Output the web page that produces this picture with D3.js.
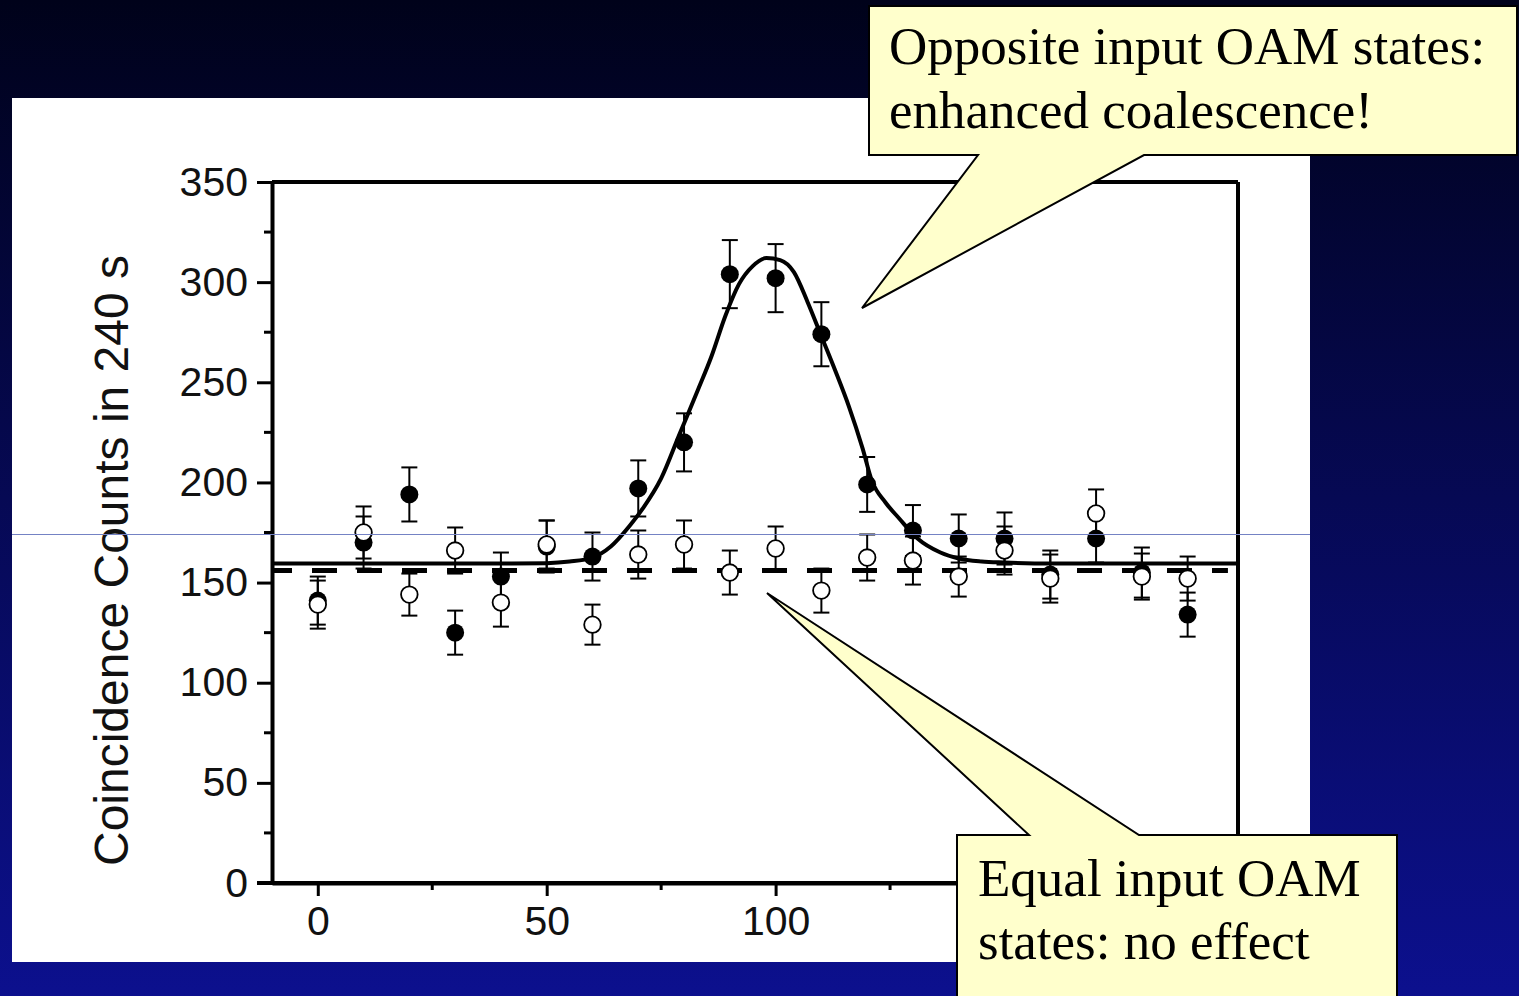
<!DOCTYPE html>
<html>
<head>
<meta charset="utf-8">
<script src="https://cdn.jsdelivr.net/npm/d3@7"></script>
<style>
  html,body{margin:0;padding:0;overflow:hidden;}
  svg{display:block;}
</style>
</head>
<body>
<svg id="chart" width="1519" height="996"></svg>
<script>
// path delay positions (x) and the two measured series
const positions = [0,10,20,30,40,50,60,70,80,90,100,110,120,130,140,150,160,170,180,190];
const oppCounts = [141,170,194,125,153,168,163,197,220,304,302,274,199,176,172,172,154,172,155,134];
const oppErr    = [12,13,13.5,11,12,13,12,14,14.5,17,17,16,13.7,12.7,12,13,12,12,12.5,11];
const eqCounts  = [139,175,144,166,140,169,129,164,169,155,167,146,162.5,161,153,166,152,184.5,153,152];
const eqErr     = [12,13,10.5,11.5,12,12,10,12,12,11,11,11,11.5,12,10,12,12,12,11.5,11];
// fitted curve
const fitX = [-10,0,20,40,50,55,60,64,68,71,75,79,83,86,89,92,95,98,101,104,107,110,113,116,119,121,124,127,131,136,140,145,150,160,180,201];
const fitY = [159.5,159.5,159.5,159.5,159.7,160.5,162.5,168,178,187,202,224,246,263,283,299,308,312,311,305,290,273,256,238,217,201,190,182,172,165,162,160.5,160,159.5,159.5,159.5];
const equalLevel = 156;
const yTicks = [0,50,100,150,200,250,300,350];
const yMinor = [25,75,125,175,225,275,325];
const xTicks = [0,50,100,150,200];
const xLabelled = [0,50,100];   // 150 and 200 sit under the callout
const xMinor = [25,75,125,175];
const yTitle = "Coincidence Counts in 240 s";
const calloutTop = ["Opposite input OAM states:", "enhanced coalescence!"];
const calloutBottom = ["Equal input OAM", "states: no effect"];

const svg = d3.select("#chart");
const defs = svg.append("defs");
const grad = defs.append("linearGradient").attr("id","bg").attr("x1",0).attr("y1",0).attr("x2",0).attr("y2",1);
grad.append("stop").attr("offset","0%").attr("stop-color","#00021a");
grad.append("stop").attr("offset","100%").attr("stop-color","#0c108e");
svg.append("rect").attr("width",1519).attr("height",996).attr("fill","url(#bg)");

// white figure panel
svg.append("rect").attr("x",12).attr("y",98).attr("width",1298).attr("height",864).attr("fill","#fff");

const x = d3.scaleLinear().domain([-10,201]).range([272,1238]);
const y = d3.scaleLinear().domain([0,350]).range([883,182]);

const g = svg.append("g");
const sans = "'Liberation Sans', Arial, sans-serif";

// frame: top and right
g.append("line").attr("x1",x(-10)).attr("x2",x(201)).attr("y1",y(350)).attr("y2",y(350)).attr("stroke","#000").attr("stroke-width",4);
g.append("line").attr("x1",x(201)).attr("x2",x(201)).attr("y1",y(350)).attr("y2",y(0)).attr("stroke","#000").attr("stroke-width",4);

// y axis
const yAx = g.append("g").attr("transform",`translate(${x(-10)},0)`)
  .call(d3.axisLeft(y).tickValues(yTicks).tickSize(15).tickSizeOuter(0).tickPadding(9));
yAx.select(".domain").attr("stroke-width",4);
yAx.selectAll(".tick line").attr("stroke-width",3);
yAx.selectAll("text").attr("font-family",sans).attr("font-size",41).attr("fill","#111");
g.append("g").selectAll("line").data(yMinor).join("line")
  .attr("x1",x(-10)-8).attr("x2",x(-10)).attr("y1",d=>y(d)).attr("y2",d=>y(d))
  .attr("stroke","#000").attr("stroke-width",3);

// x axis
const xAx = g.append("g").attr("transform",`translate(0,${y(0)})`)
  .call(d3.axisBottom(x).tickValues(xTicks).tickSize(13).tickSizeOuter(0).tickPadding(10)
    .tickFormat(d=>xLabelled.includes(d) ? d : ""));
xAx.select(".domain").attr("stroke-width",4);
xAx.selectAll(".tick line").attr("stroke-width",3);
xAx.selectAll("text").attr("font-family",sans).attr("font-size",41).attr("fill","#111");
xAx.selectAll(".tick text").filter(d=>!xLabelled.includes(d)).remove();
g.append("g").selectAll("line").data(xMinor).join("line")
  .attr("x1",d=>x(d)).attr("x2",d=>x(d)).attr("y1",y(0)).attr("y2",y(0)+7)
  .attr("stroke","#000").attr("stroke-width",3);
// 0 tick extending left of the axis
g.append("line").attr("x1",x(-10)-15).attr("x2",x(201)).attr("y1",y(0)).attr("y2",y(0)).attr("stroke","#000").attr("stroke-width",4);

// y title
g.append("text").attr("transform",`translate(128,${(y(0)+y(350))/2 + 28}) rotate(-90)`)
  .attr("text-anchor","middle").attr("font-family",sans)
  .attr("font-size",48).attr("fill","#111").text(yTitle);

// dashed equal-level line
g.append("line").attr("x1",x(-10)).attr("x2",x(198.8)).attr("y1",y(equalLevel)).attr("y2",y(equalLevel))
  .attr("stroke","#000").attr("stroke-width",5).attr("stroke-dasharray","25,20").attr("stroke-dashoffset",5);

// fit curve
const fit = fitX.map((v,i)=>[v,fitY[i]]);
g.append("path").datum(fit)
  .attr("d", d3.line().x(d=>x(d[0])).y(d=>y(d[1])).curve(d3.curveMonotoneX))
  .attr("fill","none").attr("stroke","#000").attr("stroke-width",4);

function errorBars(vals, errs){
  const eg = g.append("g").attr("stroke","#000").attr("stroke-width",2);
  positions.forEach((p,i)=>{
    const cx = x(p), lo = y(vals[i]-errs[i]), hi = y(vals[i]+errs[i]);
    eg.append("line").attr("x1",cx).attr("x2",cx).attr("y1",lo).attr("y2",hi);
    eg.append("line").attr("x1",cx-8).attr("x2",cx+8).attr("y1",lo).attr("y2",lo);
    eg.append("line").attr("x1",cx-8).attr("x2",cx+8).attr("y1",hi).attr("y2",hi);
  });
}
errorBars(oppCounts, oppErr);
errorBars(eqCounts, eqErr);

g.append("g").selectAll("circle").data(positions).join("circle")
  .attr("cx",d=>x(d)).attr("cy",(d,i)=>y(oppCounts[i])).attr("r",9).attr("fill","#000");
g.append("g").selectAll("circle").data(positions).join("circle")
  .attr("cx",d=>x(d)).attr("cy",(d,i)=>y(eqCounts[i])).attr("r",8.3)
  .attr("fill","#fff").attr("stroke","#000").attr("stroke-width",1.8);

// thin horizontal artefact line
svg.append("line").attr("x1",12).attr("x2",1310).attr("y1",534.5).attr("y2",534.5).attr("stroke","#7482c4").attr("stroke-width",1);

// callouts
const serif = "'Liberation Serif', 'Times New Roman', serif";
svg.append("path").attr("d","M869,6 H1517 V155 H1144 L862,308 L978,155 H869 Z")
  .attr("fill","#ffffcc").attr("stroke","#000").attr("stroke-width",2);
svg.append("g").selectAll("text").data(calloutTop).join("text")
  .attr("x",889).attr("y",(d,i)=>64+i*64).attr("font-family",serif).attr("font-size",53).attr("fill","#000").text(d=>d);

svg.append("path").attr("d","M957,835 H1029 L767,593 L1139,835 H1397 V1000 H957 Z")
  .attr("fill","#ffffcc").attr("stroke","#000").attr("stroke-width",2);
svg.append("g").selectAll("text").data(calloutBottom).join("text")
  .attr("x",978).attr("y",(d,i)=>896+i*63).attr("font-family",serif).attr("font-size",53).attr("fill","#000").text(d=>d);
</script>
</body>
</html>
